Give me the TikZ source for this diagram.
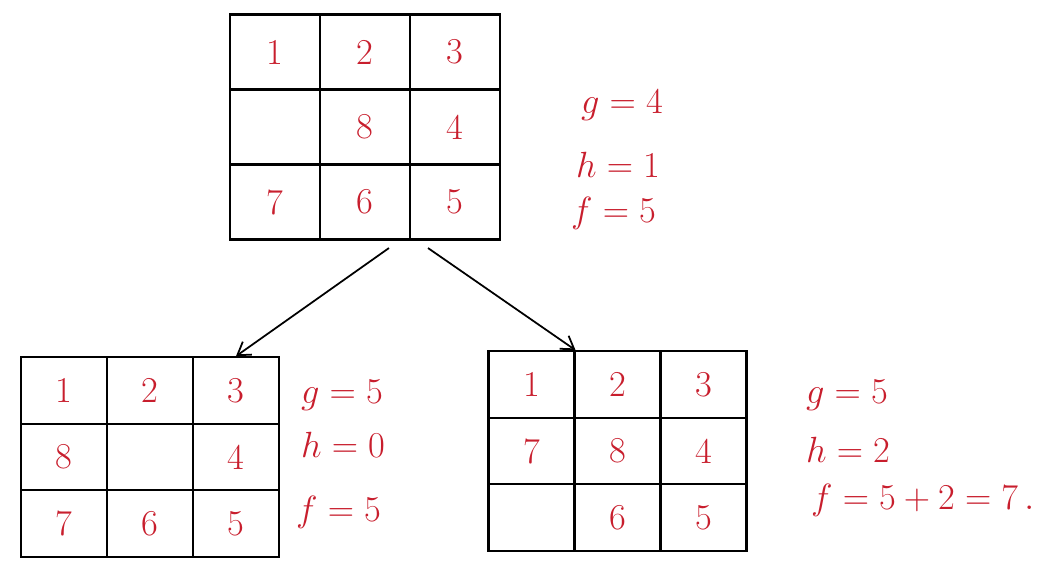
\documentclass[tikz,border=0pt]{standalone}
\usetikzlibrary{matrix,arrows.meta}
\definecolor{ink}{RGB}{200,30,45}
\tikzset{
  tile/.style={draw, line width=1.2pt, text=ink, font=\huge, inner sep=0pt, anchor=center},
  board/.style={matrix of nodes, nodes in empty cells,
    column sep=-1.2pt, row sep=-1.2pt, nodes={tile}},
  bigcell/.style={nodes={minimum width=1.8cm, minimum height=1.5cm}},
  smallcell/.style={nodes={minimum width=1.72cm, minimum height=1.33cm}},
  cost/.style={text=ink, font=\huge, anchor=west}
}
\begin{document}
\begin{tikzpicture}[>={Straight Barb[length=7pt,width=9pt]}]
\useasboundingbox (0,0) rectangle (20.92,11.6);

\matrix (start) [board, bigcell] at (7.3,9.06) {
1 & 2 & 3 \\
  & 8 & 4 \\
7 & 6 & 5 \\
};

\matrix (left) [board, smallcell] at (3.0,2.46) {
1 & 2 & 3 \\
8 &   & 4 \\
7 & 6 & 5 \\
};

\matrix (right) [board, smallcell] at (12.35,2.58) {
1 & 2 & 3 \\
7 & 8 & 4 \\
  & 6 & 5 \\
};

\draw[->,line width=1pt] ([xshift=-0.4cm,yshift=-0.15cm]start-3-3.south west)
  -- (left-1-3.north);
\draw[->,line width=1pt] ([xshift=-0.54cm,yshift=-0.15cm]start-3-3.south)
  -- (right-1-1.north east);

\node[cost] (gstart) at (11.5,9.5){$g=4$};
\node[cost] (hstart) at (11.4,8.3){$h=1$};
\node[cost] (fstart) at (11.3,7.34){$f=5$};

\node[cost] (gleft) at (5.9,3.7){$g=5$};
\node[cost] (hleft) at (5.9,2.7){$h=0$};
\node[cost] (fleft) at (5.8,1.36){$f=5$};

\node[cost] (gright) at (16.0,3.7){$g=5$};
\node[cost] (hright) at (16.0,2.6){$h=2$};
\node[cost] (fright) at (16.1,1.6){$f=5+2=7\,.$};

\end{tikzpicture}
\end{document}
